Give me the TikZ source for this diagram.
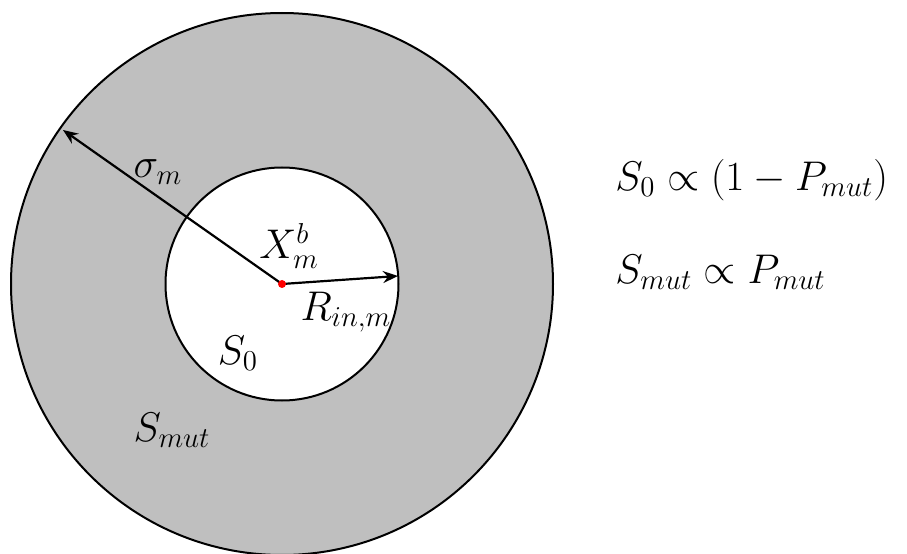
\documentclass[tikz,border=0pt]{standalone}
\usepackage{amsmath}
\usepackage{amssymb}
\usetikzlibrary{arrows.meta}
\definecolor{ringgray}{RGB}{191,191,191}

\begin{document}
\begin{tikzpicture}[>=Stealth, x=0.5pt, y=0.5pt,
    lbl/.style={font=\fontsize{22}{26}\selectfont, inner sep=0pt}]

\useasboundingbox (0,0) rectangle (907,553);
\clip (0,0) rectangle (907,553);

% Anillo exterior
\coordinate (c) at (282,269);
\fill[ringgray] (c) circle (271);
\draw[line width=1pt] (c) circle (271);

% Disc interior
\fill[white] (c) circle (116.5);
\draw[line width=1pt] (c) circle (116.5);

% Extrems de les fletxes
\coordinate (sig) at (63,423);
\coordinate (rin) at (398,277);

% Fletxes
\draw[
    ->,
    line width=1.1pt,
    >={Stealth[length=7.5pt,width=6pt]}
] (c) -- (sig);
\draw[
    ->,
    line width=1.1pt,
    >={Stealth[length=7.5pt,width=6pt]}
] (c) -- (rin);

% Punt central
\fill[red] (c) circle (4);

% Etiquetes
\node[lbl] (sigmalbl) at (158,381) {$\sigma_m$};
\node[lbl] (xlbl) at (289,307) {$X_m^b$};
\node[lbl] (rlbl) at (346,241) {$R_{in,m}$};
\node[lbl] (szero) at (238,200) {$S_0$};
\node[lbl] (smut) at (172,123) {$S_{mut}$};

% Relacions
\node[lbl, anchor=base west] (eqzero) at (615,363) {$S_0 \propto (1 - P_{mut})$};
\node[lbl, anchor=base west] (eqmut) at (615,270) {$S_{mut} \propto P_{mut}$};

\end{tikzpicture}
\end{document}
